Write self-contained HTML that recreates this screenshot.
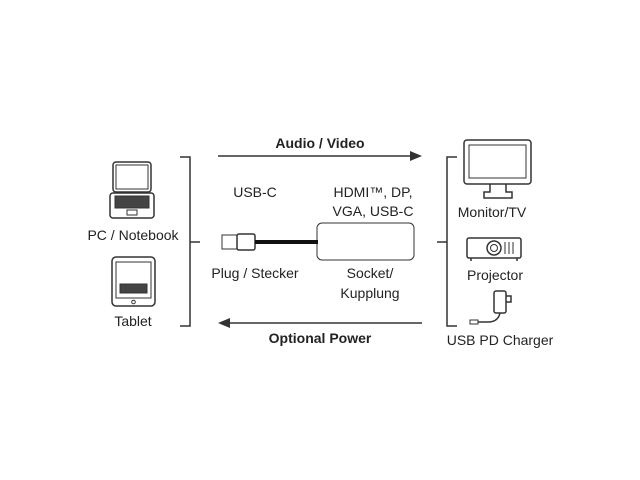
<!DOCTYPE html>
<html><head><style>
html,body{margin:0;padding:0;background:#fff;}
svg{display:block;}
text{font-family:"Liberation Sans",sans-serif;font-size:14px;fill:#222;text-anchor:middle;}
.b{font-weight:bold;}
</style></head><body>
<svg width="640" height="480" viewBox="0 0 640 480" xmlns="http://www.w3.org/2000/svg">
<g fill="none" stroke="#333" stroke-width="1.5">
<!-- laptop -->
<rect x="113" y="162" width="38" height="30" rx="3"/>
<rect x="116" y="165" width="32" height="24" stroke-width="1"/>
<rect x="110" y="193" width="44" height="25" rx="3"/>
<rect x="115" y="196" width="34" height="12" fill="#444" stroke-width="1"/>
<rect x="127" y="210" width="10" height="5" stroke-width="1"/>
<!-- tablet -->
<rect x="112" y="257" width="43" height="49" rx="4"/>
<rect x="116" y="262" width="35" height="36" stroke-width="1"/>
<rect x="120" y="284" width="27" height="9" fill="#444" stroke-width="1"/>
<circle cx="133.5" cy="302" r="1.8" stroke-width="1"/>
<!-- left bracket -->
<path d="M180 157 H190 V326 H180 M190 242 H200"/>
<!-- right bracket -->
<path d="M457 157 H447 V326 H457 M447 242 H437"/>
<!-- arrows -->
<path d="M218 156 H415"/>
<path d="M225 323 H422"/>
<!-- plug -->
<rect x="222" y="235" width="15" height="14" stroke-width="1"/>
<rect x="237" y="234" width="18" height="16" rx="2"/>
<!-- socket -->
<rect x="317" y="223" width="97" height="37" rx="5" stroke-width="1"/>
<!-- monitor -->
<rect x="464" y="140" width="67" height="44" rx="3"/>
<rect x="469" y="145" width="57" height="33" stroke-width="1"/>
<path d="M490 184 V192 H484 V198 H512 V192 H506 V184"/>
<!-- projector -->
<rect x="467" y="238" width="54" height="20" rx="2"/>
<circle cx="494" cy="248" r="7"/>
<circle cx="494" cy="248" r="3.5" stroke-width="1"/>
<path d="M505 242 V254 M509 242 V254 M513 242 V254" stroke-width="1"/>
<path d="M471 258 v3 M517 258 v3"/>
<!-- charger -->
<rect x="494" y="291" width="12" height="22" rx="2"/>
<path d="M506 296 H511 V302 H506"/>
<path d="M500 313 Q498 322 488 322 H478"/>
<rect x="470" y="320" width="8" height="4" stroke-width="1"/>
</g>
<path d="M255 242 H318" stroke="#111" stroke-width="4"/>
<polygon points="422,156 410,151 410,161" fill="#333"/>
<polygon points="218,323 230,318 230,328" fill="#333"/>
<text x="320" y="148" class="b">Audio / Video</text>
<text x="320" y="343" class="b">Optional Power</text>
<text x="133" y="240">PC / Notebook</text>
<text x="133" y="326">Tablet</text>
<text x="255" y="197">USB-C</text>
<text x="373" y="197">HDMI™, DP,</text>
<text x="373" y="216">VGA, USB-C</text>
<text x="255" y="278">Plug / Stecker</text>
<text x="370" y="278">Socket/</text>
<text x="370" y="298">Kupplung</text>
<text x="492" y="217">Monitor/TV</text>
<text x="495" y="280">Projector</text>
<text x="500" y="345">USB PD Charger</text>
</svg>
</body></html>
